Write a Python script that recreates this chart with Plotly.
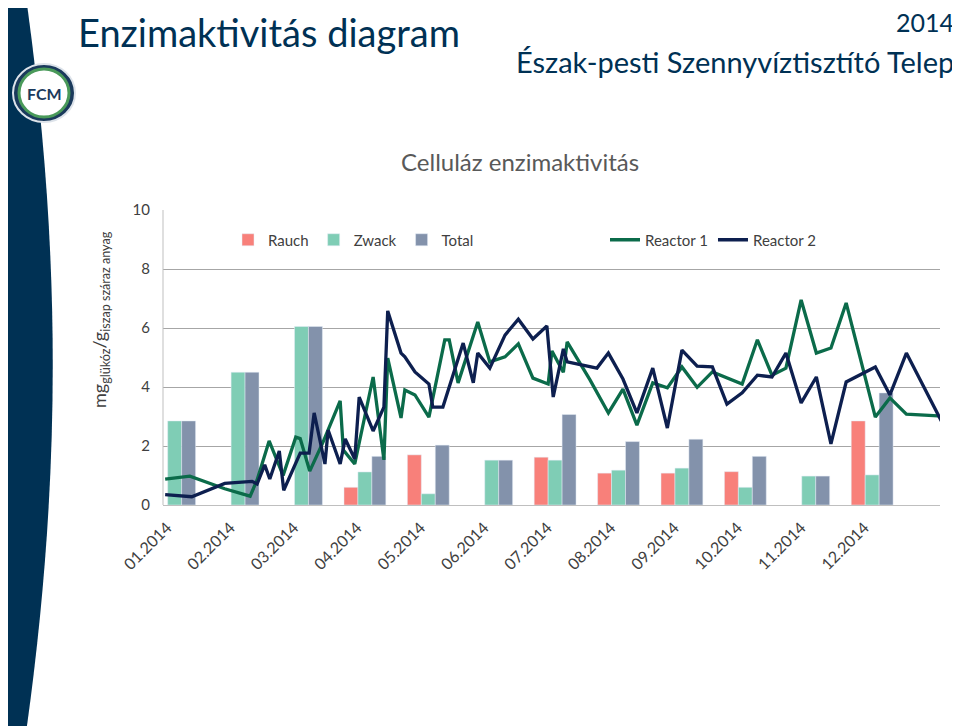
import plotly.graph_objects as go

months = ["01.2014","02.2014","03.2014","04.2014","05.2014","06.2014","07.2014","08.2014","09.2014","10.2014","11.2014","12.2014"]
rauch = [None,None,None,0.6,1.7,None,1.62,1.08,1.08,1.13,None,2.85]
zwack = [2.85,4.5,6.05,1.12,0.38,1.52,1.52,1.18,1.25,0.6,0.98,1.02]
total = [2.85,4.5,6.05,1.65,2.03,1.52,3.07,2.15,2.23,1.65,0.98,3.8]

r1_x = [-0.25,0.14,0.69,1.09,1.20,1.39,1.61,1.81,1.88,2.03,2.24,2.51,2.56,2.74,3.03,3.20,3.26,3.47,3.53,3.69,3.91,4.16,4.23,4.37,4.68,4.87,5.11,5.32,5.55,5.79,5.85,6.03,6.09,6.45,6.74,6.97,7.19,7.44,7.67,7.90,8.14,8.38,8.85,9.09,9.32,9.54,9.78,10.02,10.25,10.49,10.95,11.18,11.44,11.94]
r1_y = [0.88,0.98,0.55,0.3,0.85,2.17,1.0,2.3,2.25,1.15,2.13,3.53,1.86,1.39,4.34,1.53,4.98,2.95,3.9,3.73,2.98,5.6,5.6,4.14,6.2,4.85,5.02,5.46,4.3,4.1,5.22,4.5,5.53,4.24,3.12,3.93,2.71,4.14,3.97,4.68,3.99,4.51,4.1,5.6,4.4,4.64,6.95,5.15,5.32,6.85,2.98,3.63,3.08,3.02]
r2_x = [-0.25,0.17,0.69,1.12,1.20,1.32,1.40,1.55,1.62,1.88,2.02,2.10,2.27,2.32,2.51,2.59,2.74,2.81,3.03,3.20,3.26,3.47,3.53,3.69,3.91,3.97,4.13,4.45,4.61,4.68,4.87,5.11,5.32,5.55,5.77,5.87,6.03,6.09,6.56,6.74,6.97,7.19,7.44,7.67,7.90,8.14,8.38,8.61,8.85,9.09,9.32,9.54,9.78,10.02,10.25,10.49,10.95,11.18,11.44,12.0]
r2_y = [0.35,0.28,0.73,0.8,0.71,1.36,0.88,1.83,0.5,1.76,1.76,3.12,1.39,2.54,1.39,2.24,1.56,3.66,2.51,3.32,6.58,5.15,5.02,4.51,4.1,3.32,3.32,5.49,4.14,5.15,4.64,5.76,6.3,5.63,6.07,3.66,5.29,4.85,4.64,5.15,4.27,3.12,4.64,2.61,5.25,4.71,4.68,3.42,3.8,4.4,4.34,5.15,3.46,4.34,2.07,4.17,4.68,3.73,5.15,2.81]

OFF = 8  # page body margin
W, H = 960 - OFF, 726 - OFF
L, R, T, B = 163, 940, 210, 505
def px(x): return (x - L) / (R - L)
def py(y): return (B - y) / (B - T)

FONT = "Lato"
idx = list(range(12))
fig = go.Figure()
for name, vals, col, off in [("Rauch", rauch, "#F8807A", -0.43), ("Zwack", zwack, "#7FCDB5", -0.21), ("Total", total, "#8392AB", 0.01)]:
    fig.add_bar(x=idx, y=vals, name=name, marker_color=col, width=0.22, offset=off, legend="legend")
fig.add_scatter(x=r1_x, y=r1_y, mode="lines", name="Reactor 1", line=dict(color="#0B6B4A", width=3.3), legend="legend2")
fig.add_scatter(x=r2_x, y=r2_y, mode="lines", name="Reactor 2", line=dict(color="#0D1F4F", width=3.3), legend="legend2")

shapes = [
    dict(type="path", xref="paper", yref="paper", layer="below",
         path=f"M {px(-10)},{py(-10)} L {px(25)},{py(-10)} C {px(62)},{py(250)} {px(62)},{py(480)} {px(25)},{py(740)} L {px(-10)},{py(740)} Z",
         fillcolor="#003154", line=dict(width=0)),
    dict(type="circle", xref="paper", yref="paper", x0=px(13), x1=px(75), y0=py(64), y1=py(122),
         fillcolor="#1B3A5C", line=dict(color="#DDE3EA", width=2)),
    dict(type="circle", xref="paper", yref="paper", x0=px(19), x1=px(69), y0=py(69), y1=py(117),
         fillcolor="#FFFFFF", line=dict(color="#4A9A5A", width=3)),
    dict(type="line", xref="paper", yref="paper", x0=0, x1=0, y0=0, y1=1, line=dict(color="#BFBFBF", width=1)),
]
ann = [
    dict(text="Enzimaktivitás diagram", x=px(76), y=py(32), xanchor="left", yanchor="middle", font=dict(size=38, color="#003154", family=FONT)),
    dict(text="2014", x=px(956), y=py(22), xanchor="right", yanchor="middle", font=dict(size=25, color="#003154", family=FONT)),
    dict(text="Észak-pesti Szennyvíztisztító Telep", x=px(956), y=py(62), xanchor="right", yanchor="middle", font=dict(size=29, color="#003154", family=FONT)),
    dict(text="<b>FCM</b>", x=px(44), y=py(93), xanchor="center", yanchor="middle", font=dict(size=16, color="#1B3A5C", family=FONT)),
    dict(text="Celluláz enzimaktivitás", x=px(520), y=py(162), xanchor="center", yanchor="middle", font=dict(size=24, color="#595959", family=FONT)),
    dict(text="mg<sub>glükóz</sub>/g<sub>iszap száraz anyag</sub>", x=px(100), y=py(320), textangle=-90, xanchor="center", yanchor="middle", font=dict(size=18, color="#404040", family=FONT)),
]
for a in ann:
    a.update(xref="paper", yref="paper", showarrow=False)

fig.update_layout(
    width=W, height=H, margin=dict(l=L - OFF, r=960 - R, t=T - OFF, b=726 - B),
    paper_bgcolor="white", plot_bgcolor="white", barmode="overlay",
    font=dict(family=FONT, color="#595959", size=14),
    shapes=shapes, annotations=ann,
    xaxis=dict(range=[-0.284, 11.97], tickvals=[i - 0.22 for i in idx], ticktext=months, tickangle=-45,
               showgrid=False, showline=True, linecolor="#BFBFBF", ticks="", zeroline=False,
               ticklabelstandoff=6, tickfont=dict(size=16, color="#404040")),
    yaxis=dict(range=[0, 10], dtick=2, showgrid=True, gridcolor="#A6A6A6", zeroline=False, ticks="",
               showline=False, tickfont=dict(size=15, color="#404040"), ticklabelstandoff=12),
    legend=dict(orientation="h", x=px(228), y=py(240), xanchor="left", yanchor="middle", bgcolor="rgba(0,0,0,0)", font=dict(size=15, color="#404040")),
    legend2=dict(orientation="h", x=px(605), y=py(240), xanchor="left", yanchor="middle", bgcolor="rgba(0,0,0,0)", font=dict(size=15, color="#404040")),
)
fig.write_html("out.html")
